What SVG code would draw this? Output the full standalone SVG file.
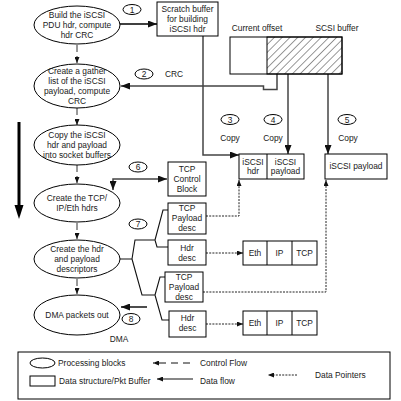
<svg xmlns="http://www.w3.org/2000/svg" width="401" height="401" viewBox="0 0 401 401">
<style>
text{font-family:"Liberation Sans",Arial,sans-serif;font-size:8.4px;fill:#1a1a1a;text-anchor:middle;dominant-baseline:central}
.lt{text-anchor:start}
.node{fill:#fff;stroke:#000;stroke-width:1}
.lbl{fill:#fff;stroke:#000;stroke-width:1}
.data{fill:none;stroke:#444;stroke-width:1.5;marker-end:url(#ah)}
.ctl{fill:none;stroke:#333;stroke-width:1;stroke-dasharray:7,4;marker-end:url(#ahs)}
.ptr{fill:none;stroke:#222;stroke-width:1;stroke-dasharray:2,1.2;marker-end:url(#ahs)}
.tree{fill:none;stroke:#111;stroke-width:1.1}
</style>
<defs>
<marker id="ah" markerUnits="userSpaceOnUse" markerWidth="9" markerHeight="7" refX="9" refY="3.5" orient="auto-start-reverse"><path d="M0,0 L9,3.5 L0,7 z" fill="#111"/></marker>
<marker id="ahs" markerUnits="userSpaceOnUse" markerWidth="6" markerHeight="5" refX="6" refY="2.5" orient="auto"><path d="M0,0 L6,2.5 L0,5 z" fill="#111"/></marker>
<pattern id="hatch" patternUnits="userSpaceOnUse" width="5.5" height="5.5" patternTransform="rotate(45)"><line x1="0" y1="0" x2="0" y2="5.5" stroke="#000" stroke-width="0.8"/></pattern>
</defs>

<g id="connectors">
<line x1="77" y1="45" x2="77" y2="63" class="ctl"/>
<line x1="77" y1="108" x2="77" y2="125" class="ctl"/>
<line x1="77" y1="165" x2="77" y2="183" class="ctl"/>
<line x1="77" y1="223" x2="77" y2="239" class="ctl"/>
<line x1="77" y1="279" x2="77" y2="294" class="ctl"/>
<line x1="120" y1="24" x2="157" y2="24" fill="none" stroke="#000" stroke-width="1.5" marker-end="url(#ah)"/>
<path d="M277,74 V89.5 H263.5 V86 H121" class="data"/>
<path d="M203,36 V155 H239" class="data"/>
<line x1="288" y1="74" x2="288" y2="154" class="data"/>
<line x1="328" y1="74" x2="328" y2="154" class="data"/>
<path d="M113,190 V179 H167" class="data" marker-start="url(#ah)"/>
<line x1="147" y1="307" x2="121" y2="307" fill="none" stroke="#000" stroke-width="1.4" marker-end="url(#ah)"/>
<path d="M120,259 H132 L135,240 H155 M132,259 L142,295 H155" class="tree"/>
<path d="M155,240 L163,210 H168 M155,240 L157,247 H168" class="tree"/>
<path d="M155,295 L160,277 H165 M155,295 L162,320 H169" class="tree"/>
<path d="M206,216 H239 V180" class="ptr"/>
<line x1="206" y1="253" x2="243" y2="253" class="ptr"/>
<path d="M203,292 H326 V180" class="ptr"/>
<line x1="206" y1="324" x2="243" y2="324" class="ptr"/>
<line x1="19" y1="122" x2="19" y2="206" stroke="#000" stroke-width="3"/>
<polygon points="14.5,205 23.5,205 19,219" fill="#000"/>
</g>

<g id="e1"><ellipse cx="77" cy="25" rx="43" ry="19" class="node"/>
<text x="77" y="15">Build the iSCSI</text><text x="77" y="25">PDU hdr, compute</text><text x="77" y="35">hdr CRC</text></g>
<g id="e2"><ellipse cx="77" cy="86" rx="43" ry="22" class="node"/>
<text x="77" y="71">Create a gather</text><text x="77" y="81">list of the iSCSI</text><text x="77" y="91">payload, compute</text><text x="77" y="101">CRC</text></g>
<g id="e3"><ellipse cx="77" cy="145" rx="43" ry="20" class="node"/>
<text x="77" y="135">Copy the iSCSI</text><text x="77" y="145">hdr and payload</text><text x="77" y="155">into socket buffers</text></g>
<g id="e4"><ellipse cx="77" cy="203" rx="43" ry="19" class="node"/>
<text x="77" y="198">Create the TCP/</text><text x="77" y="208">IP/Eth hdrs</text></g>
<g id="e5"><ellipse cx="77" cy="259" rx="43" ry="19" class="node"/>
<text x="77" y="249">Create the hdr</text><text x="77" y="259">and payload</text><text x="77" y="269">descriptors</text></g>
<g id="e6"><ellipse cx="77" cy="315" rx="43" ry="20" class="node"/>
<text x="77" y="315">DMA packets out</text></g>

<g id="scratch"><rect x="157" y="2" width="61" height="34" class="node"/>
<text x="187.5" y="9">Scratch buffer</text><text x="187.5" y="19">for building</text><text x="187.5" y="29">iSCSI hdr</text></g>
<g id="scsibuf"><rect x="230" y="37" width="112" height="37" class="node"/>
<rect x="267" y="37" width="75" height="37" fill="url(#hatch)" stroke="#000" stroke-width="1"/>
<text x="257" y="28">Current offset</text><text x="337" y="28">SCSI buffer</text></g>
<g id="iscsibuf"><rect x="239" y="154" width="65" height="25" class="node"/><line x1="267" y1="154" x2="267" y2="179" stroke="#000"/>
<text x="253" y="162">iSCSI</text><text x="253" y="171">hdr</text><text x="285.5" y="162">iSCSI</text><text x="285.5" y="171">payload</text></g>
<g id="payload"><rect x="325" y="154" width="62" height="25" class="node"/><text x="356" y="166">iSCSI payload</text></g>
<g id="tcb"><rect x="168" y="162" width="38" height="34" class="node"/>
<text x="187" y="169">TCP</text><text x="187" y="179">Control</text><text x="187" y="189">Block</text></g>
<g id="tpd1"><rect x="168" y="203" width="38" height="31" class="node"/>
<text x="187" y="208">TCP</text><text x="187" y="218">Payload</text><text x="187" y="228">desc</text></g>
<g id="hd1"><rect x="168" y="240" width="38" height="25" class="node"/>
<text x="187" y="248">Hdr</text><text x="187" y="258">desc</text></g>
<g id="tpd2"><rect x="165" y="272" width="38" height="30" class="node"/>
<text x="184" y="277">TCP</text><text x="184" y="287">Payload</text><text x="184" y="297">desc</text></g>
<g id="hd2"><rect x="169" y="311" width="37" height="26" class="node"/>
<text x="187.5" y="318">Hdr</text><text x="187.5" y="328">desc</text></g>
<g id="pkt1"><rect x="243" y="241" width="74" height="24" class="node"/><line x1="267" y1="241" x2="267" y2="265" stroke="#000"/><line x1="292" y1="241" x2="292" y2="265" stroke="#000"/>
<text x="255" y="253">Eth</text><text x="279.5" y="253">IP</text><text x="304.5" y="253">TCP</text></g>
<g id="pkt2"><rect x="243" y="311" width="74" height="24" class="node"/><line x1="267" y1="311" x2="267" y2="335" stroke="#000"/><line x1="292" y1="311" x2="292" y2="335" stroke="#000"/>
<text x="255" y="323">Eth</text><text x="279.5" y="323">IP</text><text x="304.5" y="323">TCP</text></g>

<g id="labels">
<ellipse cx="132" cy="9.5" rx="9" ry="5" class="lbl"/><text x="132" y="9.5">1</text>
<ellipse cx="144" cy="74" rx="9" ry="5" class="lbl"/><text x="144" y="74">2</text><text x="174" y="74">CRC</text>
<ellipse cx="230" cy="119.5" rx="9" ry="5" class="lbl"/><text x="230" y="119.5">3</text><text x="230" y="138">Copy</text>
<ellipse cx="273" cy="119.5" rx="9" ry="5" class="lbl"/><text x="273" y="119.5">4</text><text x="273" y="138">Copy</text>
<ellipse cx="347" cy="119.5" rx="9" ry="5" class="lbl"/><text x="347" y="119.5">5</text><text x="348" y="138">Copy</text>
<ellipse cx="138" cy="167" rx="9" ry="5" class="lbl"/><text x="138" y="167">6</text>
<ellipse cx="138" cy="224" rx="9" ry="5" class="lbl"/><text x="138" y="224">7</text>
<ellipse cx="131" cy="319" rx="9" ry="5.5" class="lbl"/><text x="131" y="319">8</text>
<text x="119" y="339">DMA</text>
</g>

<g id="legend">
<rect x="18" y="352" width="372" height="47" fill="#fff" stroke="#000" stroke-width="1"/>
<ellipse cx="42.5" cy="363" rx="12.5" ry="5" class="node"/><text class="lt" x="58" y="363">Processing blocks</text>
<rect x="30" y="376" width="25" height="10" class="node"/><text class="lt" x="59" y="381">Data structure/Pkt Buffer</text>
<line x1="190" y1="363" x2="153" y2="363" fill="none" stroke="#111" stroke-width="1" stroke-dasharray="7,5" marker-end="url(#ahs)"/>
<text class="lt" x="200" y="363">Control Flow</text>
<line x1="193" y1="379" x2="157" y2="379" fill="none" stroke="#111" stroke-width="1.2" marker-end="url(#ahs)"/>
<text class="lt" x="200" y="381">Data flow</text>
<line x1="297" y1="375" x2="268" y2="375" class="ptr"/>
<text class="lt" x="315" y="375">Data Pointers</text>
</g>
</svg>
